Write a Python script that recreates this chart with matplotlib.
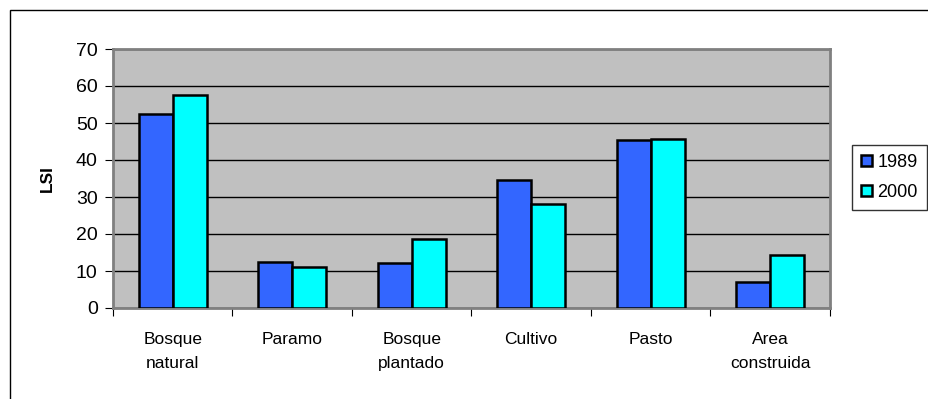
import numpy as np
import matplotlib.pyplot as plt
from matplotlib.patches import Rectangle

plt.rcParams['font.family'] = ['Liberation Sans', 'DejaVu Sans']

# LSI per land cover class
categories = ['Bosque\nnatural', 'Paramo', 'Bosque\nplantado', 'Cultivo', 'Pasto', 'Area\nconstruida']
lsi_1989 = [52.5, 12.3, 12.1, 34.5, 45.5, 6.9]
lsi_2000 = [57.5, 11.1, 18.7, 28.0, 45.8, 14.3]
years = ['1989', '2000']

fig = plt.figure(figsize=(9.29, 3.99), dpi=100)
ax = fig.add_axes([113 / 929, 1 - 308 / 399, (830 - 113) / 929, (308 - 49) / 399])

# outer chart frame
fig.patches.append(Rectangle((10 / 929, -0.1), 1.2, 1 - 10 / 399 + 0.1,
                             transform=fig.transFigure, fill=False,
                             edgecolor='black', linewidth=1))

x = np.arange(len(categories))
w = 1 / 3.5
ax.bar(x - w / 2, lsi_1989, w, color='#3366FF', edgecolor='black', linewidth=1.8, label=years[0], zorder=3)
ax.bar(x + w / 2, lsi_2000, w, color='#00FFFF', edgecolor='black', linewidth=1.8, label=years[1], zorder=3)

ax.set_facecolor('#C0C0C0')
ax.set_xlim(-0.5, len(categories) - 0.5)
ax.set_ylim(0, 70)
ax.set_yticks(range(0, 71, 10))
ax.yaxis.grid(True, color='black', linewidth=1, zorder=1)

for s in ax.spines.values():
    s.set_color('#808080')
    s.set_linewidth(2)

# category boundaries as tick marks, labels centred
ax.set_xticks(np.arange(-0.5, len(categories), 1))
ax.set_xticklabels([])
ax.set_xticks(x, minor=True)
ax.set_xticklabels(categories, minor=True, fontsize=12.5, linespacing=1.75)
ax.tick_params(axis='x', which='minor', length=0, pad=17)
ax.tick_params(axis='x', which='major', length=6, color='black')
ax.tick_params(axis='y', length=6, color='black', labelsize=14, pad=5)

ax.set_ylabel('LSI', fontsize=12.5, fontweight='bold', labelpad=15)

fig.legend(loc='upper left', bbox_to_anchor=(852 / 929, 1 - 145 / 399), fontsize=13,
           frameon=True, fancybox=False, edgecolor='black', handlelength=0.6,
           handleheight=0.6, handletextpad=0.3, borderpad=0.5, labelspacing=0.7,
           borderaxespad=0)

fig.savefig('out.png', dpi=100)
